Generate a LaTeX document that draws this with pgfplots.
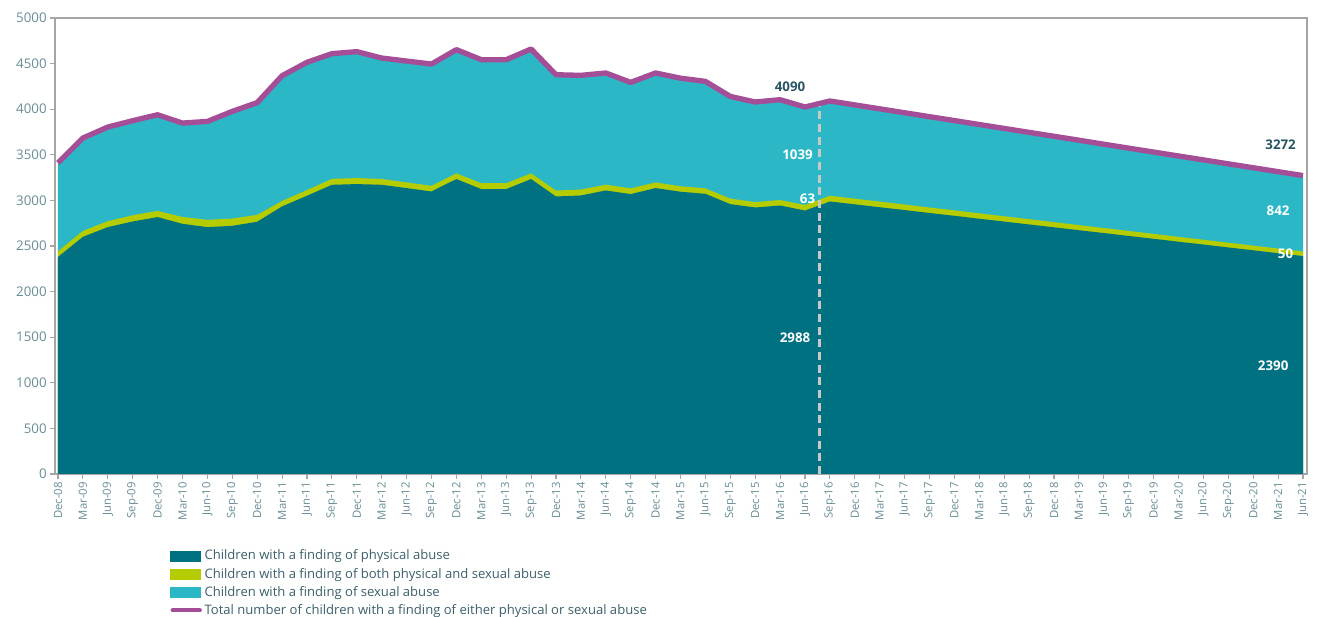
\documentclass[border=0pt]{standalone}
\usepackage{fontspec}
\setmainfont{Open Sans}
\usepackage{pgfplots}
\usepackage{pgfplotstable}
\pgfplotsset{compat=1.18}
\definecolor{physc}{RGB}{0,113,128}
\definecolor{bothc}{RGB}{181,204,0}
\definecolor{sexc}{RGB}{44,183,199}
\definecolor{totc}{RGB}{164,78,152}
\definecolor{tickc}{RGB}{105,140,150}
\definecolor{axc}{RGB}{165,165,165}
\definecolor{labc}{RGB}{40,85,100}
\definecolor{legc}{RGB}{60,95,105}
\definecolor{dashc}{RGB}{200,200,200}

\pgfplotstableread{
x P B S T
0 2380 62 970 3412
1 2600 65 1019 3684
2 2707 65 1032 3804
3 2769 68 1037 3874
4 2817 68 1054 3939
5 2743 75 1030 3848
6 2707 80 1079 3866
7 2721 80 1175 3976
8 2766 75 1231 4072
9 2934 60 1373 4367
10 3051 62 1401 4514
11 3171 65 1373 4609
12 3179 66 1386 4631
13 3171 64 1326 4561
14 3135 62 1331 4528
15 3098 62 1335 4495
16 3234 62 1357 4653
17 3124 65 1354 4543
18 3124 65 1354 4543
19 3234 62 1364 4660
20 3043 65 1270 4378
21 3054 65 1252 4371
22 3109 63 1225 4397
23 3069 63 1162 4294
24 3135 62 1200 4397
25 3095 60 1185 4340
26 3072 60 1173 4305
27 2959 60 1121 4140
28 2922 60 1097 4079
29 2944 60 1100 4104
30 2889 60 1075 4024
31 2988 63 1039 4090
32 2957 62 1029 4047
33 2925 62 1018 4004
34 2894 61 1008 3961
35 2862 60 998 3918
36 2831 60 987 3875
37 2799 59 977 3832
38 2768 58 966 3789
39 2736 58 956 3746
40 2705 57 946 3703
41 2673 56 935 3660
42 2642 55 925 3616
43 2610 55 915 3573
44 2579 54 904 3530
45 2547 53 894 3487
46 2516 53 883 3444
47 2484 52 873 3401
48 2453 51 863 3358
49 2421 51 852 3315
50 2390 50 842 3272
}\datatable

\begin{document}
\begin{tikzpicture}
\useasboundingbox (-41.25pt,-107.25pt) rectangle (947.25pt,355.5pt);
\begin{axis}[
  at={(0pt,0pt)}, anchor=south west,
  scale only axis, width=939pt, height=342pt,
  xmin=-0.12, xmax=50.16, ymin=0, ymax=5000,
  xtick={0,...,50},
  xticklabels={Dec-08,Mar-09,Jun-09,Sep-09,Dec-09,Mar-10,Jun-10,Sep-10,Dec-10,Mar-11,Jun-11,Sep-11,Dec-11,Mar-12,Jun-12,Sep-12,Dec-12,Mar-13,Jun-13,Sep-13,Dec-13,Mar-14,Jun-14,Sep-14,Dec-14,Mar-15,Jun-15,Sep-15,Dec-15,Mar-16,Jun-16,Sep-16,Dec-16,Mar-17,Jun-17,Sep-17,Dec-17,Mar-18,Jun-18,Sep-18,Dec-18,Mar-19,Jun-19,Sep-19,Dec-19,Mar-20,Jun-20,Sep-20,Dec-20,Mar-21,Jun-21},
  ytick={0,500,...,5000},
  xtick pos=bottom, ytick pos=left,
  axis line style={axc, line width=1.1pt},
  tick style={axc, line width=0.8pt},
  tick align=outside, major tick length=4pt,
  x tick label style={rotate=90, anchor=east, font=\fontsize{8.5}{10}\selectfont, text=tickc, inner sep=2pt},
  y tick label style={font=\fontsize{10}{12}\selectfont, text=tickc, /pgf/number format/1000 sep={}, inner sep=2pt},
  /pgf/number format/assume math mode=true,
  scaled y ticks=false,
  legend style={at={(0.0919,-0.160)}, anchor=north west, draw=none, fill=none,
    font=\fontsize{9.8}{11}\selectfont, text=legc, row sep=0.6pt, inner sep=0pt},
  legend cell align=left,
  clip=false,
]
\addplot[draw=none, fill=sexc, forget plot] table[x=x, y expr=\thisrow{P}+\thisrow{B}+\thisrow{S}] {\datatable} \closedcycle;
\addplot[draw=none, fill=bothc, forget plot] table[x=x, y expr=\thisrow{P}+\thisrow{B}] {\datatable} \closedcycle;
\addplot[draw=none, fill=physc, forget plot] table[x=x, y=P] {\datatable} \closedcycle;
\addplot[draw=dashc, line width=2.2pt, dash pattern=on 6pt off 3.5pt, forget plot] coordinates {(30.6,0) (30.6,4050)};
\addplot[totc, line width=4pt, line join=round, forget plot] table[x=x, y=T] {\datatable};

\addlegendimage{legend image code/.code={\fill[physc] (0pt,-3.8pt) rectangle (22pt,3.8pt);}}
\addlegendentry{Children with a finding of physical abuse}
\addlegendimage{legend image code/.code={\fill[bothc] (0pt,-3.8pt) rectangle (22pt,3.8pt);}}
\addlegendentry{Children with a finding of both physical and sexual abuse}
\addlegendimage{legend image code/.code={\fill[sexc] (0pt,-3.8pt) rectangle (22pt,3.8pt);}}
\addlegendentry{Children with a finding of sexual abuse}
\addlegendimage{legend image code/.code={\draw[totc, line width=3pt, line cap=round] (1.5pt,0pt) -- (22pt,0pt);}}
\addlegendentry{Total number of children with a finding of either physical or sexual abuse}

\node[font=\fontsize{10}{12}\selectfont\bfseries, text=labc] at (axis cs:29.4,4243) {4090};
\node[font=\fontsize{10}{12}\selectfont\bfseries, text=white] at (axis cs:29.7,3498) {1039};
\node[font=\fontsize{10}{12}\selectfont\bfseries, text=white] at (axis cs:30.1,3015) {63};
\node[font=\fontsize{10}{12}\selectfont\bfseries, text=white] at (axis cs:29.6,1491) {2988};
\node[font=\fontsize{10}{12}\selectfont\bfseries, text=labc] at (axis cs:49.1,3607) {3272};
\node[font=\fontsize{10}{12}\selectfont\bfseries, text=white] at (axis cs:49.0,2884) {842};
\node[font=\fontsize{10}{12}\selectfont\bfseries, text=white] at (axis cs:49.3,2412) {50};
\node[font=\fontsize{10}{12}\selectfont\bfseries, text=white] at (axis cs:48.8,1184) {2390};
\end{axis}
\end{tikzpicture}
\end{document}
